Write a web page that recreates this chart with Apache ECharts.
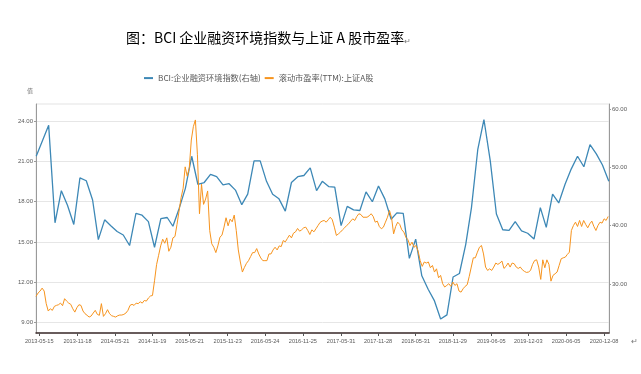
<!DOCTYPE html>
<html><head><meta charset="utf-8">
<script src="https://cdn.jsdelivr.net/npm/echarts@6/dist/echarts.min.js"></script>
<style>html,body{margin:0;padding:0;background:#fff}#c{width:641px;height:374px}</style>
</head><body><div id="c"></div>
<script>
const titleText = '图：BCI 企业融资环境指数与上证 A 股市盈率';
const legendNames = ['BCI:企业融资环境指数(右轴)', '滚动市盈率(TTM):上证A股'];
const yAxisName = '值';
const xTickLabels = ['2013-05-15','2013-11-18','2014-05-21','2014-11-19','2015-05-21','2015-11-23','2016-05-24','2016-11-25','2017-05-31','2017-11-28','2018-05-31','2018-11-29','2019-06-05','2019-12-03','2020-06-05','2020-12-08'];
const xRange = ['2013-04-29', '2021-01-01'];
const leftTicks = [9, 12, 15, 18, 21, 24];
const leftRange = [8.2, 25.29];
const rightTicks = [30, 40, 50, 60];
const rightRange = [21.6, 60.86];

// BCI monthly values, first month 2013-04
const bciStart = [2013, 4];
const bciValues = [
  51.9, 54.6, 57.2, 40.5, 46.0, 43.5, 40.2, 48.2, 47.7,
  44.4, 37.6, 41.0, 40.0, 39.0, 38.4, 36.6, 42.1, 41.8, 40.7, 36.3, 41.2,
  41.4, 39.9, 43.0, 46.4, 51.9, 47.1, 47.4, 48.8, 48.4, 47.0, 47.2, 46.1,
  43.6, 45.4, 51.1, 51.1, 47.6, 45.4, 44.6, 42.5, 47.4, 48.4, 48.6, 49.9,
  46.0, 47.6, 46.7, 46.6, 40.0, 43.3, 42.7, 42.6, 45.8, 44.1, 46.8, 44.6,
  41.1, 42.2, 42.1, 34.4, 37.7, 31.4, 29.1, 27.1, 24.0, 24.7, 31.2, 31.8,
  36.8, 43.1, 53.1, 58.2, 51.1, 42.0, 39.3, 39.2, 40.7, 39.1, 38.7, 37.7,
  43.1, 39.7, 45.4, 43.9, 47.1, 49.7, 51.9, 50.1, 53.9, 52.3, 50.4, 47.6
];

// PE (TTM) readings every 10 days from 2013-04-29
const peStart = '2013-04-29';
const peStepDays = 10;
const peValues = [
  10.93, 11.18, 11.33, 11.55, 11.33, 10.39, 9.84, 10.01, 9.89, 10.19,
  10.26, 10.31, 10.43, 10.24, 10.76, 10.58, 10.43, 10.34, 10.01, 9.76,
  10.09, 10.31, 10.26, 9.84, 9.64, 9.52, 9.39, 9.47, 9.69, 9.89,
  9.59, 9.52, 10.39, 9.44, 9.64, 9.94, 9.64, 9.49, 9.44, 9.39,
  9.49, 9.54, 9.54, 9.59, 9.69, 9.89, 10.26, 10.34, 10.26, 10.43,
  10.39, 10.53, 10.43, 10.63, 10.58, 10.81, 10.96,
  11.0, 12.1, 13.3, 14.0, 14.7, 15.2, 14.9, 15.3, 14.3, 14.6,
  15.3, 15.4, 16.3, 17.3, 18.3, 19.0, 20.6, 19.9, 20.5, 22.6,
  23.6, 24.1, 21.5, 17.1, 19.3, 17.8, 18.2, 18.8, 15.85, 14.86,
  14.6, 14.2, 14.7, 15.35, 15.5, 16.1, 16.8, 16.2, 16.7, 16.5,
  17.0, 15.85, 14.4, 13.5, 12.75, 13.1, 13.4, 13.6, 13.9, 14.2,
  14.2, 14.5, 14.1, 13.8, 13.6, 13.6,
  13.6, 14.1, 14.1, 14.4, 14.6, 14.4, 14.7, 14.65, 15.1, 15.0,
  15.25, 15.5, 15.3, 15.65, 15.75, 16.0, 15.8, 15.9, 16.05, 16.1,
  15.85, 15.55, 15.9, 15.75, 15.98, 16.22, 16.45, 16.55, 16.6, 16.47,
  16.65, 16.84, 16.65, 16.1, 15.48, 15.6, 15.73, 15.9, 16.05, 16.22,
  16.35, 16.55, 16.72, 16.6, 16.9, 17.1, 17.04, 16.84, 16.84, 16.84,
  16.94, 17.1, 16.9, 16.47, 16.55, 16.15,
  15.98, 16.1, 16.47, 16.84, 17.34, 16.8, 15.6, 16.15, 16.47, 16.3,
  15.9, 15.73, 15.35, 15.16, 14.73, 14.98, 14.6, 14.73, 14.3, 13.6,
  13.17, 13.5, 13.42, 13.5, 13.07, 13.24, 12.75, 12.99, 12.32, 12.5,
  11.88, 11.63, 11.75, 11.88, 11.68, 12.0, 11.75, 11.88, 11.33, 11.25,
  11.5, 11.68, 11.8, 12.42, 13.12, 13.81, 13.81, 14.23, 14.6, 14.73,
  14.1, 13.12, 12.87, 12.99, 12.87, 13.12,
  13.42, 13.32, 13.42, 13.57, 13.02, 13.17, 13.42, 13.12, 13.42, 13.37,
  13.12, 13.02, 13.12, 12.92, 12.8, 12.72, 12.75, 12.87, 13.32, 13.61,
  13.66, 13.12, 12.2, 13.66, 13.07, 13.66, 13.32, 12.07, 12.5, 12.62,
  12.75, 13.24, 13.74, 13.81, 13.86, 14.06, 14.23, 15.85, 16.22, 16.47,
  16.15, 16.6, 16.15, 16.6, 16.3, 16.05, 16.35, 16.55, 16.15, 15.85,
  16.22, 16.47, 16.4, 16.72, 16.6, 16.9
];

const DAY = 86400000;
function parseDate(s) { const p = s.split('-').map(Number); return Date.UTC(p[0], p[1] - 1, p[2]); }
function fmtDate(t) {
  const d = new Date(t);
  const m = d.getUTCMonth() + 1, dd = d.getUTCDate();
  return d.getUTCFullYear() + '-' + (m < 10 ? '0' : '') + m + '-' + (dd < 10 ? '0' : '') + dd;
}
const bciData = bciValues.map((v, i) => [Date.UTC(bciStart[0], bciStart[1] - 1 + i + 1, 0), v]);
const pe0 = parseDate(peStart);
const peData = peValues.map((v, i) => [pe0 + i * peStepDays * DAY, v]);
const xTickValues = xTickLabels.map(parseDate);

const labelColor = '#595959';
const chart = echarts.init(document.getElementById('c'), null, { renderer: 'canvas' });
chart.setOption({
  animation: false,
  backgroundColor: '#fff',
  title: {
    text: titleText + '{p|↵}',
    left: 121, top: 26,
    textStyle: {
      fontFamily: 'Noto Sans CJK SC', fontSize: 14, fontWeight: 'normal', color: '#000',
      rich: { p: { fontSize: 8, color: '#777', padding: [6, 0, 0, 0] } }
    }
  },
  legend: {
    data: legendNames,
    left: 139, top: 69,
    icon: 'rect', itemWidth: 9, itemHeight: 2, itemGap: 4,
    textStyle: { fontFamily: 'Noto Sans CJK SC', fontSize: 8.2, color: labelColor }
  },
  grid: { left: 36, right: 32, top: 104, bottom: 41, show: true, borderColor: '#e3e3e3', borderWidth: 1 },
  xAxis: {
    type: 'value',
    min: parseDate(xRange[0]), max: parseDate(xRange[1]),
    axisLine: { show: true, lineStyle: { color: '#3b2b2b', width: 1.5 } },
    axisTick: { show: true, length: 3, customValues: xTickValues, lineStyle: { color: '#555' } },
    axisLabel: {
      customValues: xTickValues,
      formatter: v => fmtDate(v),
      fontFamily: 'Liberation Sans', fontSize: 5.6, color: labelColor, margin: 5
    },
    splitLine: { show: false }
  },
  yAxis: [
    {
      type: 'value', position: 'left', min: leftRange[0], max: leftRange[1],
      name: yAxisName, nameLocation: 'end', nameGap: 10,
      nameTextStyle: { fontFamily: 'Noto Sans CJK SC', fontSize: 6, color: '#777', align: 'right', padding: [0, 3, 0, 0] },
      axisLine: { show: true, lineStyle: { color: '#9a9a9a', width: 1 } },
      axisTick: { show: true, length: 2, customValues: leftTicks, lineStyle: { color: '#9a9a9a' } },
      axisLabel: { customValues: leftTicks, formatter: v => v.toFixed(2), fontFamily: 'Liberation Sans', fontSize: 6, color: labelColor, margin: 3 },
      splitLine: { show: true, lineStyle: { color: '#e6e6e6', width: 1 } }
    },
    {
      type: 'value', position: 'right', min: rightRange[0], max: rightRange[1],
      axisLine: { show: true, lineStyle: { color: '#9a9a9a', width: 1 } },
      axisTick: { show: true, length: 2, customValues: rightTicks, lineStyle: { color: '#9a9a9a' } },
      axisLabel: { customValues: rightTicks, formatter: v => v.toFixed(2), fontFamily: 'Liberation Sans', fontSize: 6, color: labelColor, margin: 3 },
      splitLine: { show: false }
    }
  ],
  series: [
    {
      name: legendNames[0], type: 'line', yAxisIndex: 1, data: bciData,
      showSymbol: false, symbol: 'none', color: '#3d88b6',
      lineStyle: { width: 1.3, color: '#3d88b6' }
    },
    {
      name: legendNames[1], type: 'line', yAxisIndex: 0, data: peData,
      showSymbol: false, symbol: 'none', color: '#f7941e',
      lineStyle: { width: 1, color: '#f7941e' }
    }
  ],
  graphic: [
    { type: 'text', left: 631, top: 338, style: { text: '↵', fontSize: 8, fill: '#777' } }
  ]
});
</script>
</body></html>
